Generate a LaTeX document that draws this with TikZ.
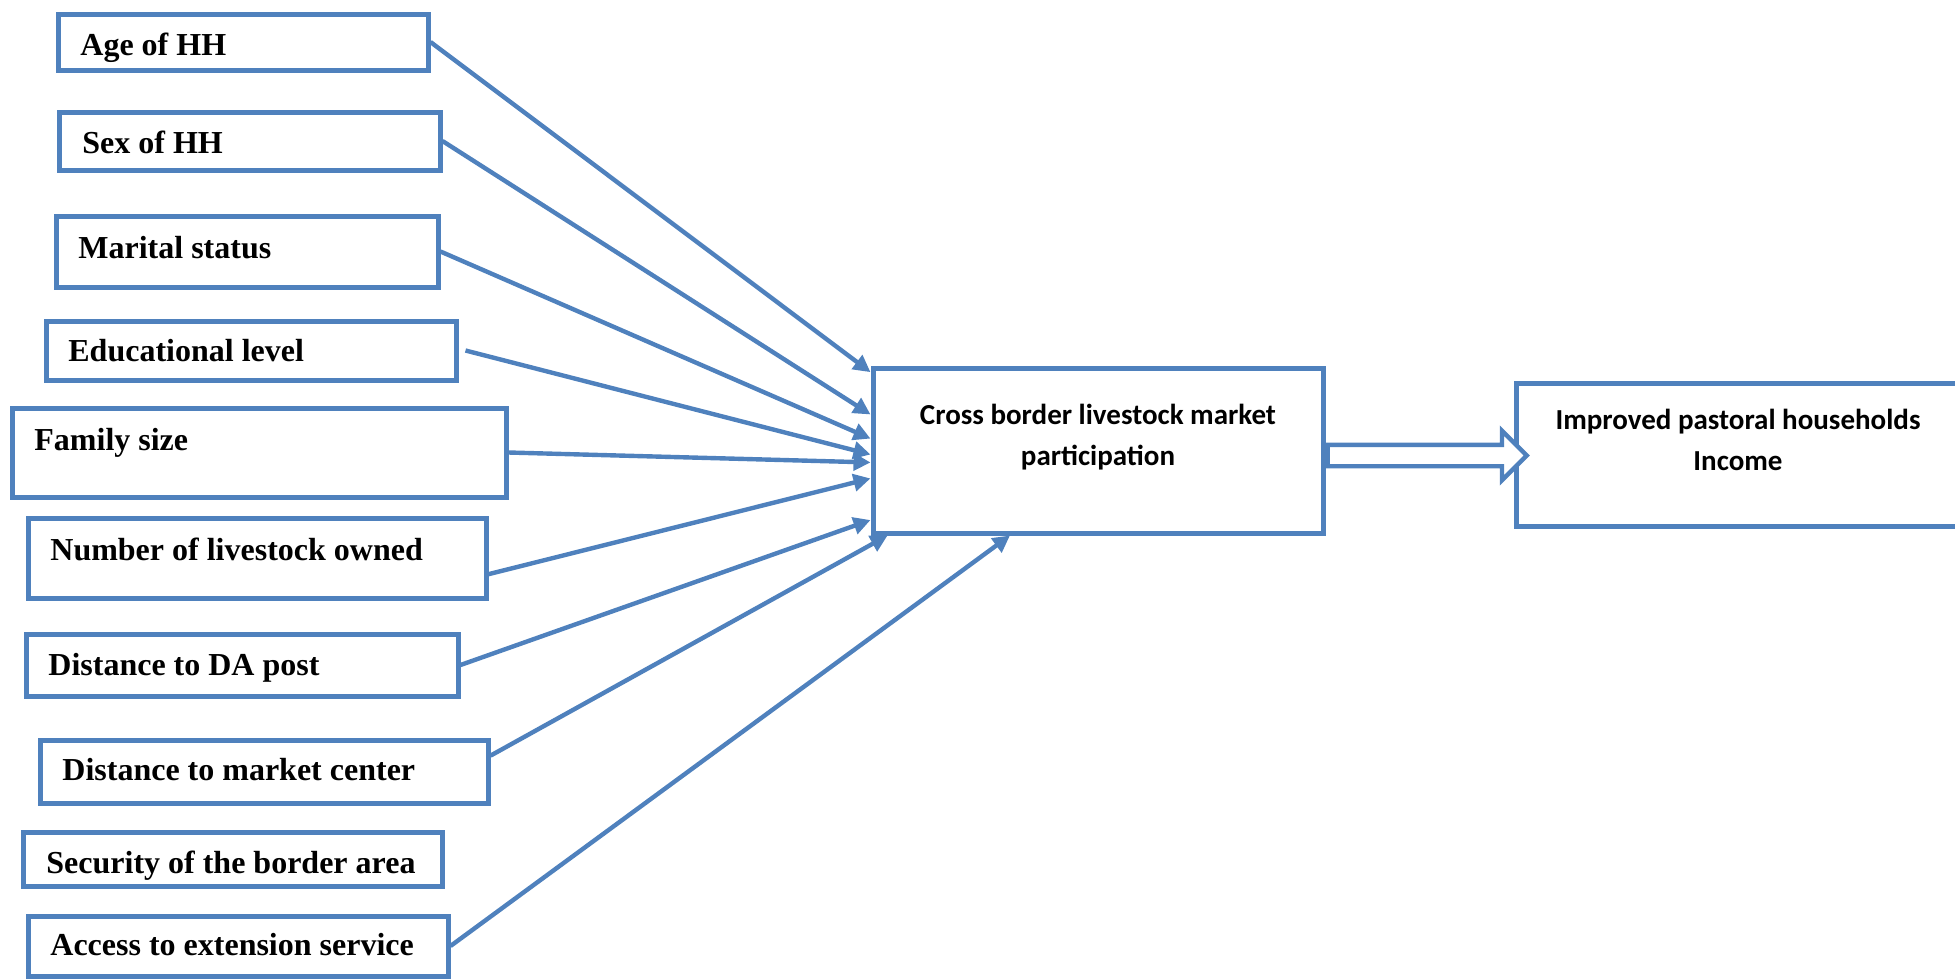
\documentclass[tikz,border=0pt]{standalone}
\usepackage{fontspec}
\setmainfont{Liberation Serif}
\newfontfamily\calibri{Carlito}
\usepackage{tikz}
\usetikzlibrary{fit,positioning,arrows.meta,shapes.arrows}
\definecolor{boxblue}{RGB}{79,129,189}

\begin{document}
\begin{tikzpicture}[x=0.5pt,y=-0.5pt]
\tikzstyle{box}=[rectangle, draw=boxblue, line width=2.5pt, inner sep=0pt]
\tikzstyle{lbl}=[anchor=base west, inner sep=0pt, font=\fontsize{16}{19}\selectfont\bfseries]
\tikzstyle{mid}=[anchor=base, inner sep=0pt, align=center, font=\calibri\fontsize{14.5}{20.5}\selectfont\bfseries]
\tikzstyle{connect}=[draw=boxblue, line width=2.2pt, -{Triangle[length=8.5pt,width=8.5pt]}]
\tikzstyle{flow}=[single arrow, draw=boxblue, fill=white, line width=2.2pt, inner xsep=0pt,
  inner ysep=4.25pt, single arrow head extend=7pt, single arrow tip angle=90]

	\useasboundingbox (0,0) rectangle (1955,980);

	% explanatory variables
	\node[box, fit={(58,14) (428,70)}] (age) {};
	\node[lbl] (tage) at (80,55) {Age of HH};
	\node[box, fit={(59,112) (440,170)}] (sex) {};
	\node[lbl] (tsex) at (82,153) {Sex of HH};
	\node[box, fit={(56,216) (438,287)}] (mar) {};
	\node[lbl] (tmar) at (78,258) {Marital status};
	\node[box, fit={(46,321) (456,380)}] (edu) {};
	\node[lbl] (tedu) at (68,361) {Educational level};
	\node[box, fit={(12,408) (506,497)}] (fam) {};
	\node[lbl] (tfam) at (34,450) {Family size};
	\node[box, fit={(28,518) (486,598)}] (liv) {};
	\node[lbl] (tliv) at (50,560) {Number of livestock owned};
	\node[box, fit={(26,634) (458,696)}] (dap) {};
	\node[lbl] (tdap) at (48,675) {Distance to DA post};
	\node[box, fit={(40,740) (488,803)}] (mkt) {};
	\node[lbl] (tmkt) at (62,780) {Distance to market center};
	\node[box, fit={(23,832) (442,886)}] (sec) {};
	\node[lbl] (tsec) at (46,873) {Security of the border area};
	\node[box, fit={(28,916) (448,976)}] (ext) {};
	\node[lbl] (text) at (50,955) {Access to extension service};

	% participation and outcome
	\node[box, fit={(873,368) (1323,533)}] (cbm) {};
	\node[mid] (tcbm) at (1098,465) {Cross border livestock market\\participation};
	\node[box, fit={(1516,383) (1960,526)}] (inc) {};
	\node[mid] (tinc) at (1738,470) {Improved pastoral households\\Income};

	\node[flow, anchor=tail, minimum height=99.5pt] (fl) at ([yshift=-2.5pt]cbm.east) {};

	\path
		(age.east) edge [connect] (cbm.161.5)
		(sex.east) edge [connect] (cbm.171)
		(mar.east) edge [connect] (cbm.177.3)
		([xshift=3.5pt]edu.east) edge [connect] (cbm.181.7)
		(fam.east) edge [connect] (cbm.183.7)
		(liv.-4) edge [connect] (cbm.187.7)
		(dap.east) edge [connect] (cbm.197.6)
		(mkt.4) edge [connect] (cbm.202.3)
		(ext.east) edge [connect] (cbm.224.8);

\end{tikzpicture}
\end{document}
